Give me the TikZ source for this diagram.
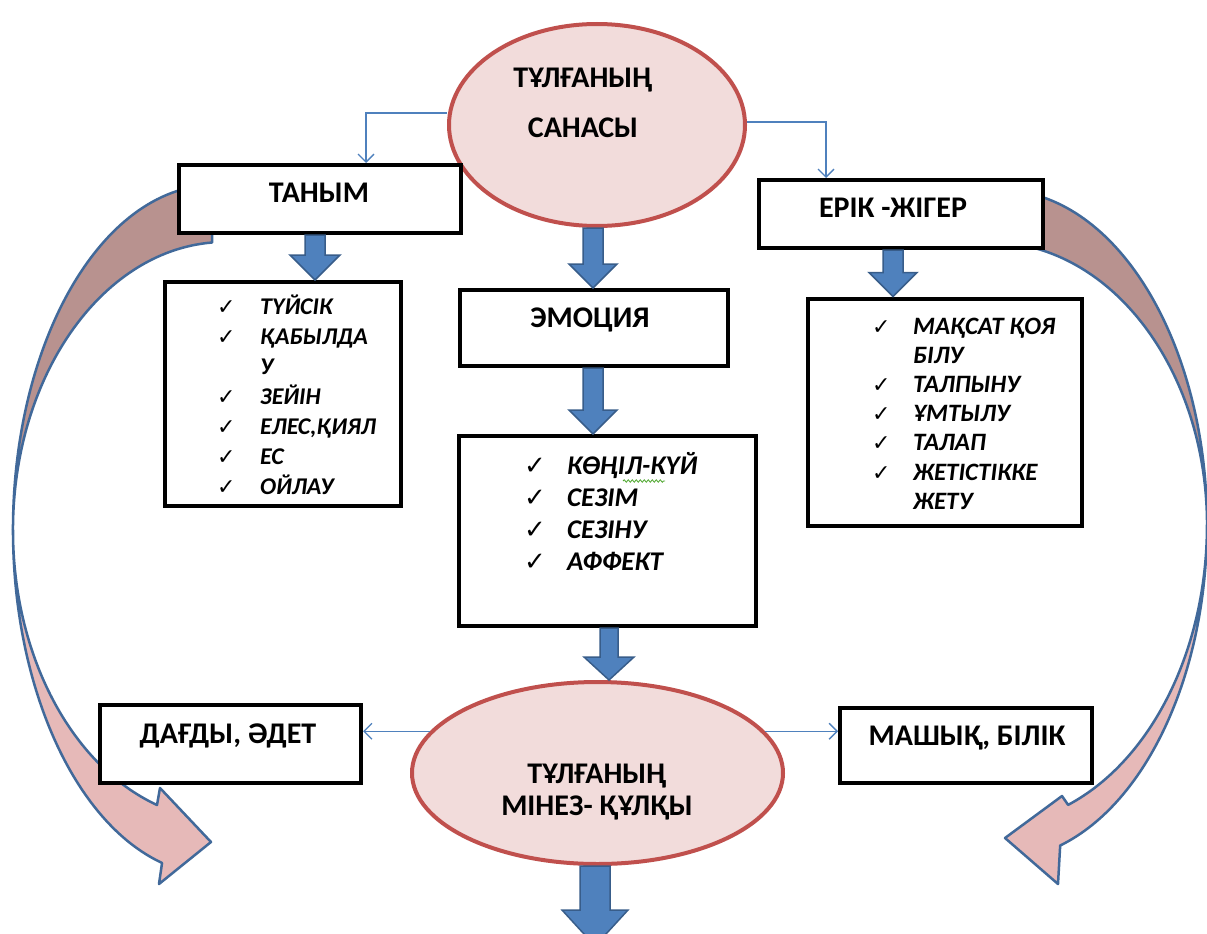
\documentclass[tikz,border=0pt]{standalone}
\usepackage{fontspec}
\setmainfont{Carlito}
\newfontfamily\checkfont{DejaVu Sans}
\usetikzlibrary{calc,shapes.geometric,arrows.meta,decorations.pathmorphing}
\definecolor{rosefill}{HTML}{F2DCDB}
\definecolor{roseline}{HTML}{C0504D}
\definecolor{linkblue}{HTML}{4F81BD}
\definecolor{arrowedge}{HTML}{385D8A}
\definecolor{bandback}{HTML}{B8928F}
\definecolor{bandfront}{HTML}{E6B9B8}
\definecolor{bandedge}{HTML}{41699A}
\definecolor{spellgreen}{HTML}{4EA72E}
\newcommand\chk[1]{{\checkfont\mdseries\upshape\fontsize{#1}{#1}\selectfont ✓}}
\def\blockarrow(#1)(#2)(#3:#4:#5){\draw[blockarr] let \p1=(#1), \p2=(#2) in (\x1-#3pt,\y1) -- (\x1-#3pt,\y2+#5pt) -- (\x1-#4pt,\y2+#5pt) -- (\x1,\y2) -- (\x1+#4pt,\y2+#5pt) -- (\x1+#3pt,\y2+#5pt) -- (\x1+#3pt,\y1) -- cycle}

\begin{document}
\begin{tikzpicture}[x=1pt, y=-1pt,
	box/.style={draw=black, line width=4, fill=white, inner sep=0},
	oval/.style={ellipse, draw=roseline, fill=rosefill, line width=4, inner sep=0},
	head/.style={font=\bfseries\fontsize{30}{34}\selectfont, inner sep=0, align=center},
	items/.style={inner sep=0, anchor=north west},
	link/.style={draw=linkblue, line width=1.3, -{Straight Barb[length=8pt, width=16pt]}},
	blockarr/.style={fill=linkblue, draw=arrowedge, line width=1.5},
	band/.style={draw=bandedge, line width=2.5, line join=round}]
		%%%%% START %%%%%
		\path[use as bounding box, fill=white] (0,0) rectangle (1207,934);
		
		% curved arrows behind the boxes
		\draw[band, fill=bandback] (211.8,185) arc[start angle=269.1, end angle=180, x radius=202, y radius=345] arc[start angle=180, end angle=266.5, x radius=212, y radius=288] -- cycle;
		\draw[band, fill=bandfront] (13,530) arc[start angle=180, end angle=105.2, x radius=202, y radius=345] -- (159,884) -- (211,842) -- (160,788) -- (157,805) arc[start angle=108.7, end angle=180, x radius=212, y radius=290] -- cycle;
		
		\draw[band, fill=bandback] (1029.9,193.5) arc[start angle=278.3, end angle=360, x radius=207, y radius=335] arc[start angle=360, end angle=280.6, x radius=217, y radius=283] -- cycle;
		\draw[band, fill=bandfront] (1207,525) arc[start angle=0, end angle=73.1, x radius=207, y radius=335] -- (1058,884) -- (1005,838) -- (1062,796) -- (1068.1,804.9) arc[start angle=68.9, end angle=0, x radius=217, y radius=300] -- cycle;
		
		% shapes
		\node[oval, minimum width=296, minimum height=202] (sana) at (597,125) {};
		\node[box, minimum width=282, minimum height=68] (tanym) at (320,199) {};
		\node[box, minimum width=284, minimum height=68] (erik) at (901,214) {};
		\node[box, minimum width=268, minimum height=76] (emotsiya) at (594,328) {};
		\node[box, minimum width=236, minimum height=224] (tanymlist) at (283,394) {};
		\node[box, minimum width=297, minimum height=190] (emolist) at (607,531) {};
		\node[box, minimum width=274, minimum height=227] (eriklist) at (945,412) {};
		\node[oval, minimum width=371, minimum height=182] (minez) at (597.5,773) {};
		\node[box, minimum width=261, minimum height=78] (dagdy) at (230.5,744) {};
		\node[box, minimum width=252, minimum height=75] (mashyk) at (966,745.5) {};
		\coordinate (bottomend) at (595,946);
		
		% texts
		\node[head] (sanatext) at (583,103) {ТҰЛҒАНЫҢ\\[16pt]САНАСЫ};
		\node[head, anchor=base] (tanymtext) at (319,202) {ТАНЫМ};
		\node[head, anchor=base] (eriktext) at (893,217) {ЕРІК -ЖІГЕР};
		\node[head, anchor=base] (emotext) at (590,327) {ЭМОЦИЯ};
		\node[head] (mineztext) at (597,792) {ТҰЛҒАНЫҢ\\[-2pt]МІНЕЗ- ҚҰЛҚЫ};
		\node[head, anchor=base] (dagdytext) at (228,743) {ДАҒДЫ, ӘДЕТ};
		\node[head, anchor=base] (mashyktext) at (967,745) {МАШЫҚ, БІЛІК};
		
		\node[items, font=\bfseries\itshape\fontsize{24}{30}\selectfont] (tanymitems) at (217,293.5) {%
			\begin{tabular}{@{}p{43pt}@{}l@{}}
				\chk{22} & ТҮЙСІК\\ \chk{22} & ҚАБЫЛДА\\ & У\\ \chk{22} & ЗЕЙІН\\
				\chk{22} & ЕЛЕС,ҚИЯЛ\\ \chk{22} & ЕС\\ \chk{22} & ОЙЛАУ
			\end{tabular}};
		\node[items, font=\bfseries\itshape\fontsize{27}{32}\selectfont] (emoitems) at (524,452) {%
			\begin{tabular}{@{}p{43pt}@{}l@{}}
				\chk{26} & КӨҢІЛ-КҮЙ\\ \chk{26} & СЕЗІМ\\ \chk{26} & СЕЗІНУ\\ \chk{26} & АФФЕКТ
			\end{tabular}};
		\node[items, font=\bfseries\itshape\fontsize{25}{29.2}\selectfont] (erikitems) at (872,313.5) {%
			\begin{tabular}{@{}p{41pt}@{}l@{}}
				\chk{22} & МАҚСАТ ҚОЯ\\ & БІЛУ\\ \chk{22} & ТАЛПЫНУ\\ \chk{22} & ҰМТЫЛУ\\
				\chk{22} & ТАЛАП\\ \chk{22} & ЖЕТІСТІККЕ\\ & ЖЕТУ
			\end{tabular}};
		\draw[spellgreen, line width=0.8, decorate, decoration={snake, amplitude=1.2pt, segment length=4pt}] (623,481) -- (665,481);
		
		% thin links
		\draw[link] ([yshift=12pt]sana.west) -| ([xshift=46pt]tanym.north);
		\draw[link] ([yshift=3pt]sana.east) -| ([xshift=-75pt]erik.north);
		\draw[link] (minez.166) -- (minez.166 -| dagdy.east);
		\draw[link] (minez.14) -- (minez.14 -| mashyk.west);
		
		% block arrows
		\blockarrow(315,0 |- tanym.south)(315,0 |- tanymlist.north)(10:25:25);
		\blockarrow(593,0 |- sana.south)(593,0 |- emotsiya.north)(10:24:24);
		\blockarrow(593,0 |- emotsiya.south)(593,0 |- emolist.north)(10:24:24);
		\blockarrow(609,0 |- emolist.south)(609,0 |- minez.north)(9:25:23);
		\blockarrow(893,0 |- erik.south)(893,0 |- eriklist.north)(10:24:24);
		\blockarrow(595,0 |- minez.south)(bottomend)(15:33:36);
		%%%%% END %%%%%
\end{tikzpicture}
\end{document}
